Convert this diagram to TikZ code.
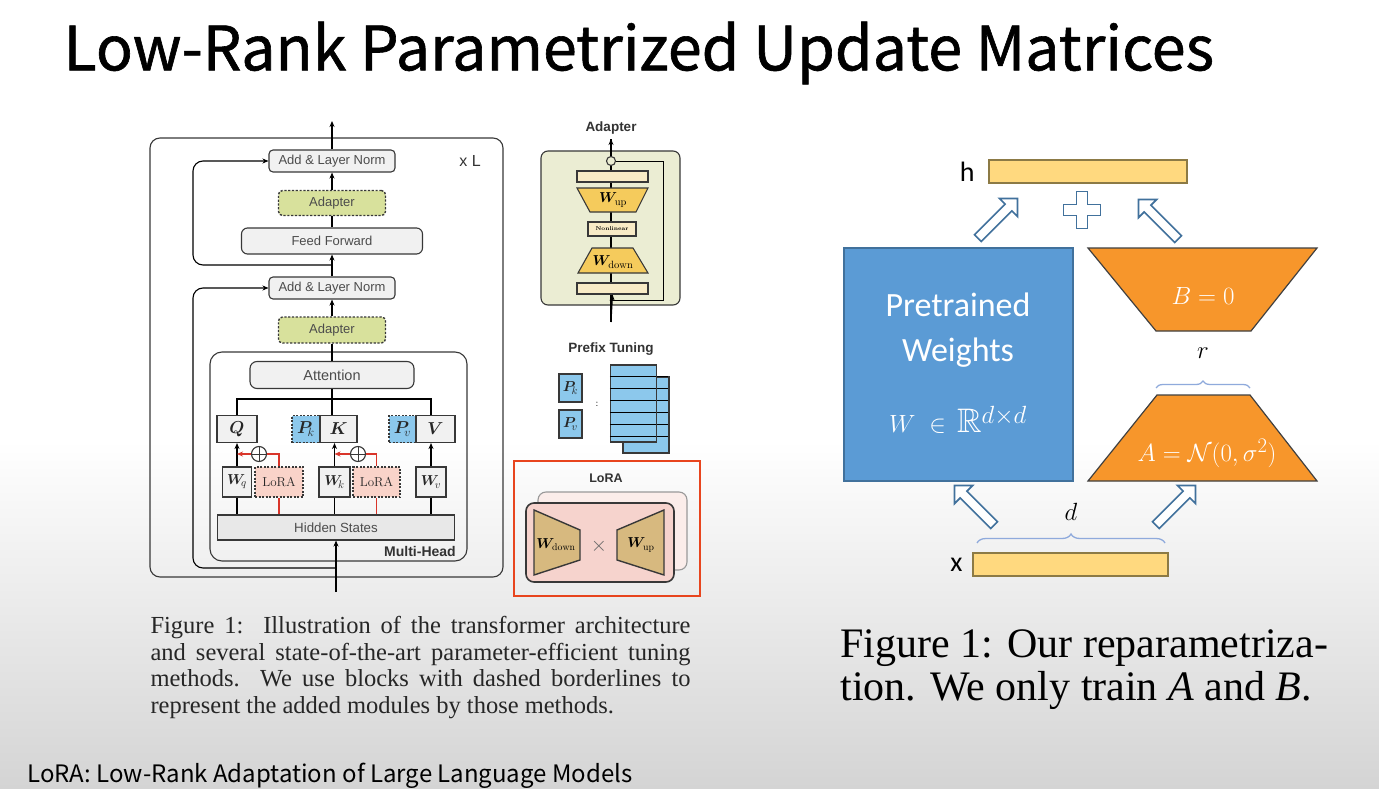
\documentclass[tikz,border=0pt]{standalone}
\usepackage{amsmath}
\usepackage{amssymb}
\usepackage{bm}
\usepackage{fontspec}
\usetikzlibrary{arrows.meta, positioning, shapes.arrows, decorations.pathreplacing}

\newfontfamily\titlefont[FakeBold=1]{Noto Sans CJK KR}
\newfontfamily\footfont{Noto Sans CJK KR}
\newfontfamily\figfont{Liberation Sans}
\newfontfamily\slidefont{Carlito}
\newfontfamily\capfont{Liberation Serif}

\definecolor{panelgray}{HTML}{F1F1F1}
\definecolor{linegray}{HTML}{383838}
\definecolor{adpgreen}{HTML}{D8E19C}
\definecolor{adpback}{HTML}{EBEDD3}
\definecolor{prefblue}{HTML}{8CC8EC}
\definecolor{lorapink}{HTML}{F9D3C9}
\definecolor{lorared}{HTML}{D9352A}
\definecolor{hlred}{HTML}{E8451E}
\definecolor{wgold}{HTML}{F5CB5C}
\definecolor{wbar}{HTML}{F8EBC6}
\definecolor{wtan}{HTML}{D7B97F}
\definecolor{pinkpanel}{HTML}{F4CBC4}
\definecolor{wblue}{HTML}{5B9BD5}
\definecolor{wblueline}{HTML}{41719C}
\definecolor{rorange}{HTML}{F7962B}
\definecolor{vecyellow}{HTML}{FFD97F}
\definecolor{vecline}{HTML}{8C7A45}
\definecolor{bracecol}{HTML}{8FAADC}
\definecolor{slidegray}{HTML}{D4D4D4}

\begin{document}
\begin{tikzpicture}[
    x=1pt, y=-1pt,
    >={Stealth[length=6pt, width=5pt]},
    line width=1.1pt,
    blk/.style={draw=linegray, fill=panelgray, rounded corners=4pt, inner sep=0pt,
      text=black!70, font=\figfont\fontsize{13}{15}\selectfont},
    adp/.style={blk, fill=adpgreen, dash pattern=on 2.2pt off 1.6pt, line width=1.4pt},
    mat/.style={draw=linegray, fill=panelgray, inner sep=0pt, text=black!85,
      font=\fontsize{17}{17}\selectfont},
    pfxbox/.style={mat, fill=prefblue, dash pattern=on 2pt off 1.5pt},
    lora/.style={mat, fill=lorapink, dash pattern=on 2pt off 1.5pt,
      font=\fontsize{13}{13}\selectfont},
    addsym/.style={circle, draw=linegray, fill=white, minimum size=15pt, inner sep=0pt,
      path picture={\draw[line width=1pt]
        (path picture bounding box.north) -- (path picture bounding box.south)
        (path picture bounding box.west) -- (path picture bounding box.east);}},
    outline/.style={draw=linegray, inner sep=0pt},
    bar/.style={draw=linegray, fill=wbar, inner sep=0pt, minimum width=71, minimum height=11},
    heading/.style={font=\figfont\bfseries\fontsize{13.5}{15}\selectfont, text=black!80},
    sheet/.style={draw=linegray, fill=prefblue, inner sep=0pt, minimum width=46},
    vec/.style={draw=vecline, fill=vecyellow, line width=1.2pt, inner sep=0pt, minimum height=23},
    hollow/.style={single arrow, draw=wblueline, fill=white, line width=1.6pt, inner sep=4pt,
      single arrow head extend=8pt, minimum height=56pt},
    mathw/.style={text=white, font=\fontsize{30}{34}\selectfont},
    ]

    % slide background
    \fill[white] (0,0) rectangle (1379,789);
    \shade[top color=white, bottom color=slidegray] (0,440) rectangle (1379,789);

    \node[anchor=west, inner sep=0pt, font=\titlefont\fontsize{61}{66}\selectfont] (title) at (63,53)
      {Low-Rank Parametrized Update Matrices};

    % ---- transformer layer ----
    \node[outline, rounded corners=10pt, minimum width=353, minimum height=439] (layerbox) at (326.5,357.5) {};
    \node[outline, rounded corners=12pt, minimum width=257, minimum height=209] (mhbox) at (338.5,456.5) {};
    \node[font=\figfont\fontsize{16}{18}\selectfont, text=black!80] (xl) at (470,161) {x L};
    \node[heading, font=\figfont\bfseries\fontsize{14}{15}\selectfont] (mhlabel) at (420,551) {Multi-Head};

    \node[blk, minimum width=126, minimum height=22] (aln1) at (332,161) {Add \& Layer Norm};
    \node[adp, minimum width=107, minimum height=25] (adp1) at (332,203) {Adapter};
    \node[blk, rounded corners=6pt, minimum width=181, minimum height=26] (ffn) at (332,241) {Feed Forward};
    \node[blk, minimum width=126, minimum height=22] (aln2) at (332,288) {Add \& Layer Norm};
    \node[adp, minimum width=107, minimum height=26] (adp2) at (332,330) {Adapter};
    \node[blk, rounded corners=7pt, minimum width=164, minimum height=27,
      font=\figfont\fontsize{14.5}{16}\selectfont] (attn) at (332,375) {Attention};

    \node[mat, minimum width=40, minimum height=27] (qbox) at (237,429) {$\bm{Q}$};
    \node[pfxbox, minimum width=28, minimum height=27] (pkbox) at (306,429) {$\bm{P}_{\!k}$};
    \node[mat, minimum width=37, minimum height=27] (kbox) at (338.5,429) {$\bm{K}$};
    \node[pfxbox, minimum width=27, minimum height=27] (pvbox) at (402.5,429) {$\bm{P}_{\!v}$};
    \node[mat, minimum width=39, minimum height=27] (vbox) at (435.5,429) {$\bm{V}$};

    \node[mat, minimum width=29, minimum height=30, font=\fontsize{15}{15}\selectfont] (wqbox) at (237,482) {$\bm{W}_{\!q}$};
    \node[lora, minimum width=48, minimum height=30] (loraq) at (279,482) {LoRA};
    \node[mat, minimum width=31, minimum height=30, font=\fontsize{15}{15}\selectfont] (wkbox) at (334.5,482) {$\bm{W}_{\!k}$};
    \node[lora, minimum width=47, minimum height=30] (lorak) at (376.5,482) {LoRA};
    \node[mat, minimum width=30, minimum height=30, font=\fontsize{15}{15}\selectfont] (wvbox) at (431,482) {$\bm{W}_{\!v}$};
    \node[addsym] (addq) at (259,454) {};
    \node[addsym] (addk) at (358,454) {};

    \node[blk, sharp corners, fill=black!9, minimum width=237, minimum height=25,
      font=\figfont\fontsize{13.3}{15}\selectfont] (hid) at (336,527.5) {Hidden States};

    \coordinate (inp) at (336,592);
    \coordinate (out) at (332,121);
    \coordinate (res1) at (332,265);
    \coordinate (res2) at (336,568);

    % q, k, v paths
    \draw (wqbox.south) -- (wqbox.south |- hid.north);
    \draw (wkbox.south) -- (wkbox.south |- hid.north);
    \draw (wvbox.south) -- (wvbox.south |- hid.north);
    \draw[->] (wqbox.north) -- (wqbox.north |- qbox.south);
    \draw[->] (wkbox.north) -- (wkbox.north |- kbox.south);
    \draw[->] (wvbox.north) -- (wvbox.north |- vbox.south);
    \draw (qbox.north) -- ++(0,-16) -| (wvbox.north |- vbox.north);
    \draw (attn.south) -- (attn.south |- kbox.north);

    % lora branches
    \draw[lorared] (loraq.south) -- (loraq.south |- hid.north);
    \draw[lorared] (lorak.south) -- (lorak.south |- hid.north);
    \draw[lorared] (loraq.north) |- (addq.east);
    \draw[lorared] (lorak.north) |- (addk.east);
    \draw[lorared, ->] (addq.west) -- (addq.west -| wqbox.north);
    \draw[lorared, ->] (addk.west) -- (addk.west -| wkbox.north);

    % main stream
    \draw[->] (inp) -- (hid.south);
    \draw (attn.north) -- (adp2.south);
    \draw[->] (adp2.north) -- (aln2.south);
    \draw[->] (aln2.north) -- (ffn.south);
    \draw (ffn.north) -- (adp1.south);
    \draw[->] (adp1.north) -- (aln1.south);
    \draw[->] (aln1.north) -- (out);
    \draw[->, rounded corners=10pt] (res2) -| (193,288) -- (aln2.west);
    \draw[->, rounded corners=10pt] (res1) -| (193,161) -- (aln1.west);

    % ---- adapter ----
    \node[heading] (adptitle) at (611,128) {Adapter};
    \node[outline, fill=adpback, rounded corners=7pt, minimum width=139, minimum height=154] (adpbox) at (610.5,228) {};
    \coordinate (adpin) at (611,322);
    \coordinate (adpout) at (611,139);
    \coordinate (skipend) at (611,300);
    \draw (adpin) -- (adpout);
    \node[bar] (topbar) at (612.5,176.5) {};
    \draw[fill=wgold, draw=linegray] (577,188) -- (648,188) -- (636,212) -- (590,212) -- cycle;
    \node[font=\fontsize{15}{15}\selectfont] (wuplabel) at (613,200) {$\bm{W}_{\mathrm{up}}$};
    \node[bar, minimum width=48, minimum height=14, font=\bfseries\fontsize{5.5}{6}\selectfont] (nonlin) at (612,229) {Nonlinear};
    \draw[fill=wgold, draw=linegray] (592,248) -- (633,248) -- (648,273) -- (578,273) -- cycle;
    \node[font=\fontsize{15}{15}\selectfont] (wdownlabel) at (613,262) {$\bm{W}_{\mathrm{down}}$};
    \node[bar] (botbar) at (612.5,288.5) {};
    \node[circle, draw=linegray, fill=adpback, minimum size=9pt, inner sep=0pt] (sumc) at (611,161) {};
    \draw[->] (adpin) -- (botbar.south);
    \draw[->] (sumc.north) -- (adpout);
    \draw[line width=0.9pt] (sumc.east) -| (663,300) -- (skipend);

    % ---- prefix tuning ----
    \node[heading] (preftitle) at (611,349) {Prefix Tuning};
    \node[mat, fill=prefblue, minimum width=23, minimum height=28, font=\fontsize{15}{15}\selectfont] (pkside) at (570.5,388) {$\bm{P}_{\!k}$};
    \node[mat, fill=prefblue, minimum width=23, minimum height=28, font=\fontsize{15}{15}\selectfont] (pvside) at (570.5,424) {$\bm{P}_{\!v}$};
    \node[font=\fontsize{10}{10}\selectfont] (colon) at (597,404) {:};
    \node[sheet, minimum height=76] (sheetb) at (646,415) {};
    \foreach \k in {0,...,5}
      \draw (sheetb.north west) ++(0,\k*12) -- ++(46,0);
    \node[sheet, minimum height=77] (sheetf) at (633.5,403.5) {};
    \foreach \k in {1,...,6}
      \draw (sheetf.north west) ++(0,\k*12) -- ++(46,0);

    % ---- lora ----
    \node[draw=hlred, line width=2.8pt, minimum width=186, minimum height=135] (lorahl) at (607,528.5) {};
    \node[heading, font=\figfont\bfseries\fontsize{12.5}{14}\selectfont] (loratitle) at (606,478) {LoRA};
    \node[draw=black!40, fill=pinkpanel!35, rounded corners=8pt, minimum width=149, minimum height=78] (lback) at (612.5,531) {};
    \node[draw=linegray, fill=pinkpanel!85, line width=1.6pt, rounded corners=8pt, minimum width=148, minimum height=79] (lfront) at (600,542.5) {};
    \draw[fill=wtan, draw=linegray, line width=1.4pt] (534,510) -- (580,530) -- (580,560) -- (534,575) -- cycle;
    \node[font=\fontsize{14}{14}\selectfont] (ldownlabel) at (556,545) {$\bm{W}_{\mathrm{down}}$};
    \node[font=\fontsize{20}{20}\selectfont, text=black!60] (times) at (599,546) {$\times$};
    \draw[fill=wtan, draw=linegray, line width=1.4pt] (617,530) -- (664,510) -- (664,575) -- (617,560) -- cycle;
    \node[font=\fontsize{14}{14}\selectfont] (luplabel) at (641,545) {$\bm{W}_{\mathrm{up}}$};

    % ---- reparametrization ----
    \node[vec, minimum width=198] (hvec) at (1088,171.5) {};
    \node[font=\slidefont\fontsize{28}{30}\selectfont, left=10pt of hvec] (hlabel) {h};
    \node[vec, minimum width=195] (xvec) at (1070.5,564.5) {};
    \node[font=\slidefont\fontsize{28}{30}\selectfont, left=6pt of xvec] (xlabel) {x};

    \node[draw=wblueline, fill=wblue, line width=1.2pt, minimum width=229, minimum height=233] (wmat) at (958.5,364.5) {};
    \node[text=white, align=center, font=\slidefont\fontsize{34}{45}\selectfont] (pretxt) at (958,330) {Pretrained\\Weights};
    \node[mathw, font=\fontsize{34}{38}\selectfont] (wtxt) at (958,420) {$W\;\in\,\mathbb{R}^{d\times d}$};

    \draw[draw=black!75, fill=rorange, line width=1.2pt] (1088,248) -- (1317,248) -- (1251,331) -- (1156,331) -- cycle;
    \node[mathw] (btxt) at (1203,296) {$B = 0$};
    \draw[draw=black!75, fill=rorange, line width=1.2pt] (1157,395) -- (1250,395) -- (1317,481) -- (1088,481) -- cycle;
    \node[mathw, font=\fontsize{29.5}{31}\selectfont] (atxt) at (1207,453) {$A = \mathcal{N}(0,\sigma^2)$};

    \draw[bracecol, line width=1.3pt, decorate, decoration={brace, amplitude=7pt}] (1156,388) -- (1250,388);
    \node[font=\fontsize{28}{30}\selectfont] (rlabel) at (1203,353) {$r$};
    \draw[bracecol, line width=1.3pt, decorate, decoration={brace, amplitude=9pt}] (977,543) -- (1165,543);
    \node[font=\fontsize{28}{30}\selectfont] (dlabel) at (1071,512) {$d$};

    \node[hollow, rotate=45] (arrw) at (996,220) {};
    \node[hollow, rotate=135] (arrb) at (1160,221) {};
    \node[hollow, rotate=135] (arrx) at (976,507) {};
    \node[hollow, rotate=45] (arra) at (1174,507) {};
    \draw[wblueline, fill=white, line width=1.6pt, shift={(1082,210)}]
      (-5.5,-18.5) -- (5.5,-18.5) -- (5.5,-5.5) -- (18.5,-5.5) -- (18.5,5.5) -- (5.5,5.5)
      -- (5.5,18.5) -- (-5.5,18.5) -- (-5.5,5.5) -- (-18.5,5.5) -- (-18.5,-5.5) -- (-5.5,-5.5) -- cycle;

    % ---- captions ----
    \node[anchor=north west, text width=540pt, align=justify, inner sep=0pt,
      font=\capfont\fontsize{24.5}{26.5}\selectfont, text=black!85] (capleft) at (150,616)
      {Figure 1:\ \ Illustration of the transformer architecture\linebreak
       and several state-of-the-art parameter-efficient tuning\linebreak
       methods.\ \ We use blocks with dashed borderlines to\linebreak
       represent the added modules by those methods.};
    \node[anchor=north west, align=left, inner sep=0pt,
      font=\capfont\fontsize{42}{43}\selectfont] (capright) at (840,629)
      {Figure 1: Our reparametriza-\\tion. We only train \textit{A} and \textit{B}.};

    \node[anchor=west, inner sep=0pt, font=\footfont\fontsize{24}{26}\selectfont] (footer) at (27,776)
      {LoRA: Low-Rank Adaptation of Large Language Models};
\end{tikzpicture}
\end{document}
